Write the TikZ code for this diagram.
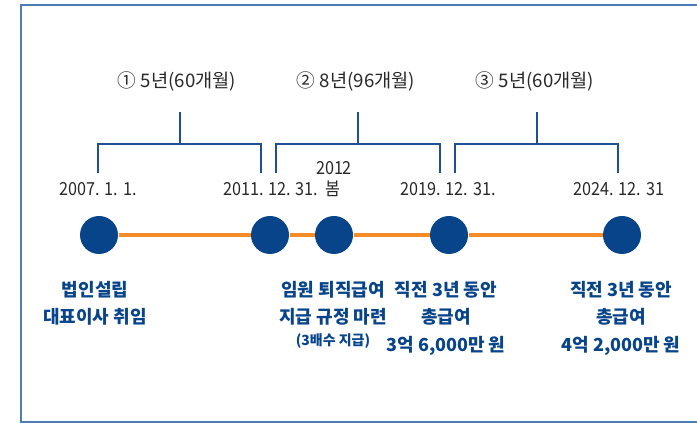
\documentclass[tikz,border=0pt]{standalone}
\usepackage{fontspec}
\setmainfont{Noto Sans CJK KR}
\newfontfamily\narrowkr[FakeStretch=0.9]{Noto Sans CJK KR}
\usetikzlibrary{backgrounds}
\definecolor{navy}{RGB}{8,68,138}
\definecolor{linkorange}{RGB}{245,140,40}
\definecolor{frameblue}{RGB}{75,125,185}
\definecolor{brkblue}{RGB}{30,80,150}
\definecolor{datagray}{RGB}{40,40,40}
\tikzset{every picture/.style={line width=0.75pt}}

\begin{document}
\begin{tikzpicture}[x=0.75pt,y=0.75pt,yscale=-1,xscale=1,
  dot/.style={circle,fill=navy,minimum size=28.5pt,inner sep=0pt},
  datelbl/.style={text=datagray,inner sep=0pt,font=\narrowkr\fontsize{13.5}{15}\selectfont},
  perlbl/.style={text=datagray,inner sep=0pt,font=\fontsize{14}{16}\selectfont},
  evtlbl/.style={text=navy,inner sep=0pt,anchor=north,align=center,font=\bfseries\fontsize{13.5}{20.5}\selectfont},
  brk/.style={draw=brkblue,line width=0.9pt}]
\useasboundingbox (0,0) rectangle (697,423);

%Shape: Frame
\draw [frameblue, line width=1.5pt] (697,5.5) -- (20.5,5.5) -- (20.5,422) -- (697,422) ;

%Shape: Circles
\node [dot] (p1) at (99,235) {};
\node [dot] (p2) at (270,235) {};
\node [dot] (p3) at (334,235) {};
\node [dot] (p4) at (449,235) {};
\node [dot] (p5) at (622,235) {};

%Straight Lines
\begin{pgfonlayer}{background}
\draw [linkorange, line width=2.6pt] (p1) -- (p2) -- (p3) -- (p4) -- (p5) ;
\end{pgfonlayer}

%Shape: Brackets
\draw [brk] (98,173) -- (98,144) -- (261,144) -- (261,173) ;
\draw [brk] (180,144) -- (180,112) ;
\draw [brk] (276,173) -- (276,144) -- (440,144) -- (440,173) ;
\draw [brk] (358,144) -- (358,112) ;
\draw [brk] (455,173) -- (455,144) -- (618,144) -- (618,173) ;
\draw [brk] (537,144) -- (537,112) ;

% Text Node
\node [perlbl] (per1) at (177,81) {① 5년(60개월)};
\node [perlbl] (per2) at (356,81) {② 8년(96개월)};
\node [perlbl] (per3) at (535,81) {③ 5년(60개월)};
% Text Node
\node [datelbl] (d1) at (98,189) {2007. 1. 1.};
\node [datelbl] (d2) at (282,189) {2011. 12. 31.\ \ 봄};
\node [datelbl] (d2b) at (334,168) {2012};
\node [datelbl] (d3) at (448,189) {2019. 12. 31.};
\node [datelbl] (d4) at (619,189) {2024. 12. 31};
% Text Node
\node [evtlbl] (e1) at (95,281) {법인설립\\대표이사 취임};
\node [evtlbl] (e2) at (333,281) {임원 퇴직급여\\지급 규정 마련\\[-4pt]{\fontsize{10.5}{12}\selectfont (3배수 지급)}};
\node [evtlbl] (e3) at (446,281) {직전 3년 동안\\총급여\\3억 6,000만 원};
\node [evtlbl] (e4) at (621,281) {직전 3년 동안\\총급여\\4억 2,000만 원};

\end{tikzpicture}
\end{document}
